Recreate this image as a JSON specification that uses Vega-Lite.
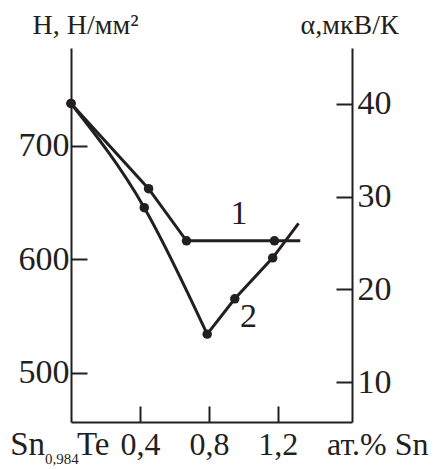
{
  "$schema": "https://vega.github.io/schema/vega-lite/v6.json",
  "width": 281,
  "height": 374,
  "autosize": {"type": "none"},
  "padding": {"left": 71, "top": 48, "right": 83, "bottom": 47},
  "background": "white",
  "config": {
    "view": {"stroke": null},
    "font": "Times New Roman, Liberation Serif, DejaVu Serif, serif",
    "text": {"font": "Times New Roman, Liberation Serif, DejaVu Serif, serif"},
    "axis": {
      "domainColor": "#231f20",
      "domainWidth": 2,
      "tickColor": "#231f20",
      "tickWidth": 2,
      "tickSize": -16,
      "grid": false,
      "labelColor": "#231f20",
      "titleColor": "#231f20",
      "labelFont": "Times New Roman, Liberation Serif, DejaVu Serif, serif",
      "titleFont": "Times New Roman, Liberation Serif, DejaVu Serif, serif",
      "titleFontWeight": "normal",
      "labelFontSize": 34,
      "titleFontSize": 28
    }
  },
  "datasets": {
    "hardness": [
      {"x": 0, "H": 737, "measured": true},
      {"x": 0.45, "H": 662, "measured": true},
      {"x": 0.67, "H": 616, "measured": true},
      {"x": 1.18, "H": 616, "measured": true},
      {"x": 1.33, "H": 616, "measured": false}
    ],
    "seebeck": [
      {"x": 0, "alpha": 40.0, "measured": true},
      {"x": 0.425, "alpha": 28.8, "measured": true},
      {"x": 0.79, "alpha": 15.2, "measured": true},
      {"x": 0.95, "alpha": 19.0, "measured": true},
      {"x": 1.17, "alpha": 23.4, "measured": true},
      {"x": 1.32, "alpha": 27.1, "measured": false}
    ],
    "curveLabels": [
      {"label": "1", "x": 0.975, "H": 640},
      {"label": "2", "x": 1.03, "H": 549}
    ],
    "origin": [
      {"x": 0, "H": 456.4}
    ]
  },
  "encoding": {
    "x": {
      "field": "x",
      "type": "quantitative",
      "scale": {"domain": [0, 1.63], "nice": false, "zero": false},
      "axis": {
        "values": [0.4, 0.8, 1.2],
        "labelExpr": "replace(format(datum.value, '.1f'), '.', ',')",
        "labelFontSize": 32,
        "labelBaseline": "alphabetic",
        "labelPadding": 48,
        "title": "ат.% Sn",
        "titleFontSize": 32,
        "titleX": 357,
        "titleY": 32,
        "titleAlign": "right",
        "titleBaseline": "alphabetic"
      }
    }
  },
  "layer": [
    {
      "data": {"name": "hardness"},
      "encoding": {
        "y": {
          "field": "H",
          "type": "quantitative",
          "scale": {"domain": [456.4, 785.9], "nice": false, "zero": false},
          "axis": {
            "values": [500, 600, 700],
            "title": "H, Н/мм²",
            "titleAngle": 0,
            "titleX": -39,
            "titleY": -15,
            "titleAlign": "left",
            "titleBaseline": "alphabetic",
            "labelPadding": 18
          }
        }
      },
      "layer": [
        {"mark": {"type": "line", "color": "#231f20", "strokeWidth": 3}},
        {
          "transform": [{"filter": "datum.measured"}],
          "mark": {"type": "point", "filled": true, "color": "#231f20", "size": 90, "opacity": 1}
        },
        {
          "data": {"name": "curveLabels"},
          "mark": {"type": "text", "fontSize": 34, "color": "#231f20", "align": "center", "baseline": "middle"},
          "encoding": {"text": {"field": "label"}}
        },
        {
          "data": {"name": "origin"},
          "mark": {"type": "text", "text": "Sn", "fontSize": 33, "color": "#231f20", "align": "right", "baseline": "alphabetic", "dx": -26, "dy": 33},
          "encoding": {}
        },
        {
          "data": {"name": "origin"},
          "mark": {"type": "text", "text": "0,984", "fontSize": 15, "color": "#231f20", "align": "left", "baseline": "alphabetic", "dx": -26, "dy": 42},
          "encoding": {}
        },
        {
          "data": {"name": "origin"},
          "mark": {"type": "text", "text": "Te", "fontSize": 33, "color": "#231f20", "align": "left", "baseline": "alphabetic", "dx": 6, "dy": 33},
          "encoding": {}
        }
      ]
    },
    {
      "data": {"name": "seebeck"},
      "encoding": {
        "y": {
          "field": "alpha",
          "type": "quantitative",
          "scale": {"domain": [5.75, 45.97], "nice": false, "zero": false},
          "axis": {
            "orient": "right",
            "values": [10, 20, 30, 40],
            "title": "α,мкВ/К",
            "titleAngle": 0,
            "titleX": -52,
            "titleY": -15,
            "titleAlign": "left",
            "titleBaseline": "alphabetic",
            "labelPadding": 21
          }
        }
      },
      "layer": [
        {
          "transform": [{"filter": "datum.x <= 0.79"}],
          "mark": {"type": "line", "color": "#231f20", "strokeWidth": 3, "interpolate": "monotone"}
        },
        {
          "transform": [{"filter": "datum.x >= 0.79"}],
          "mark": {"type": "line", "color": "#231f20", "strokeWidth": 3}
        },
        {
          "transform": [{"filter": "datum.measured"}],
          "mark": {"type": "point", "filled": true, "color": "#231f20", "size": 90, "opacity": 1}
        }
      ]
    }
  ],
  "resolve": {"scale": {"y": "independent"}}
}
